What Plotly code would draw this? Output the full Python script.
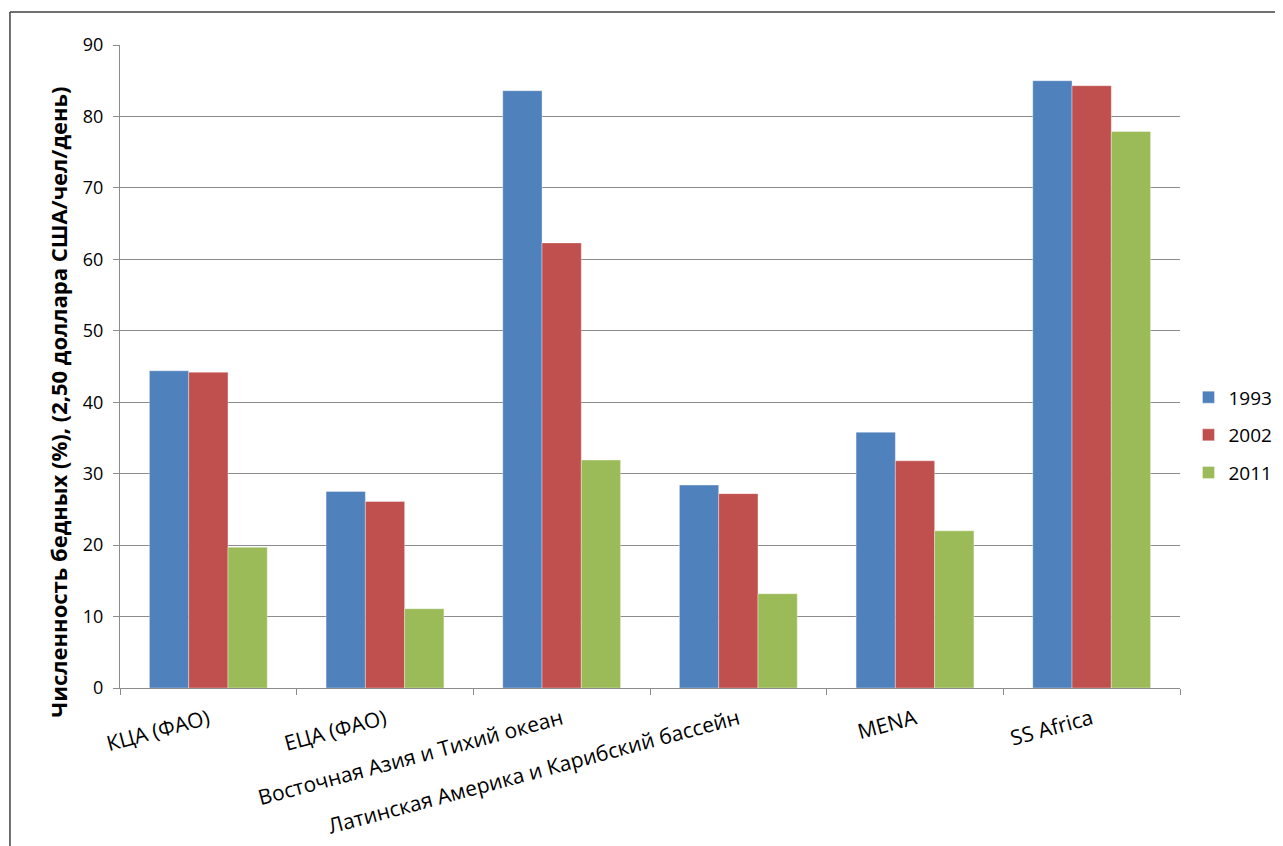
import plotly.graph_objects as go

categories = ["КЦА (ФАО)", "ЕЦА (ФАО)", "Восточная Азия и Тихий океан",
              "Латинская Америка и Карибский бассейн", "MENA", "SS Africa"]
v1993 = [44.4, 27.5, 83.6, 28.4, 35.8, 85.0]
v2002 = [44.2, 26.1, 62.3, 27.2, 31.8, 84.3]
v2011 = [19.7, 11.1, 31.9, 13.2, 22.0, 77.9]
series_names = ["1993", "2002", "2011"]
colors = ["#4F81BD", "#C0504D", "#9BBB59"]
y_ticks = [0, 10, 20, 30, 40, 50, 60, 70, 80, 90]
y_title = "Численность бедных (%), (2,50 доллара США/чел/день)"

FONT = "Open Sans"
fig = go.Figure()
for name, vals, col in zip(series_names, [v1993, v2002, v2011], colors):
    fig.add_trace(go.Bar(x=categories, y=vals, name=name, legendgroup=name, marker_color=col,
                         marker_line=dict(color="rgba(255,255,255,0.35)", width=1)))

fig.update_layout(
    width=1283, height=846,
    paper_bgcolor="white", plot_bgcolor="white",
    margin=dict(l=112, r=111, t=37, b=166),
    barmode="group", bargap=0.333, bargroupgap=0,
    font=dict(family=FONT, size=19, color="black"),
    legend=dict(x=1.008, y=0.393, xanchor="left", yanchor="middle",
                font=dict(size=19), itemwidth=30, tracegroupgap=10),
    showlegend=True,
)
fig.update_yaxes(range=[0, 90], tickvals=y_ticks, showgrid=True, gridcolor="#8C8C8C",
                 gridwidth=1, showline=True, linecolor="#8C8C8C", ticks="outside",
                 ticklen=6, tickcolor="#8C8C8C", tickfont=dict(size=18),
                 ticklabelstandoff=6, zeroline=False)
fig.update_xaxes(showline=True, linecolor="#8C8C8C", ticks="outside", ticklen=6,
                 tickcolor="#8C8C8C", tickson="boundaries", tickangle=-15,
                 tickfont=dict(size=21), ticklabelstandoff=10)

fig.add_annotation(text="<b>" + y_title + "</b>", xref="paper", yref="paper",
                   x=-0.0585, y=0.445, xanchor="center", yanchor="middle",
                   textangle=-90, showarrow=False, font=dict(size=22, color="black"))

# outer chart frame (left and top edges visible)
fig.add_shape(type="line", xref="paper", yref="paper", x0=-0.1038, x1=1.2, y0=1.0513, y1=1.0513,
              line=dict(color="#404040", width=1.5))
fig.add_shape(type="line", xref="paper", yref="paper", x0=-0.1038, x1=-0.1038, y0=-0.3, y1=1.0513,
              line=dict(color="#404040", width=1.5))

fig.write_html("out.html")
